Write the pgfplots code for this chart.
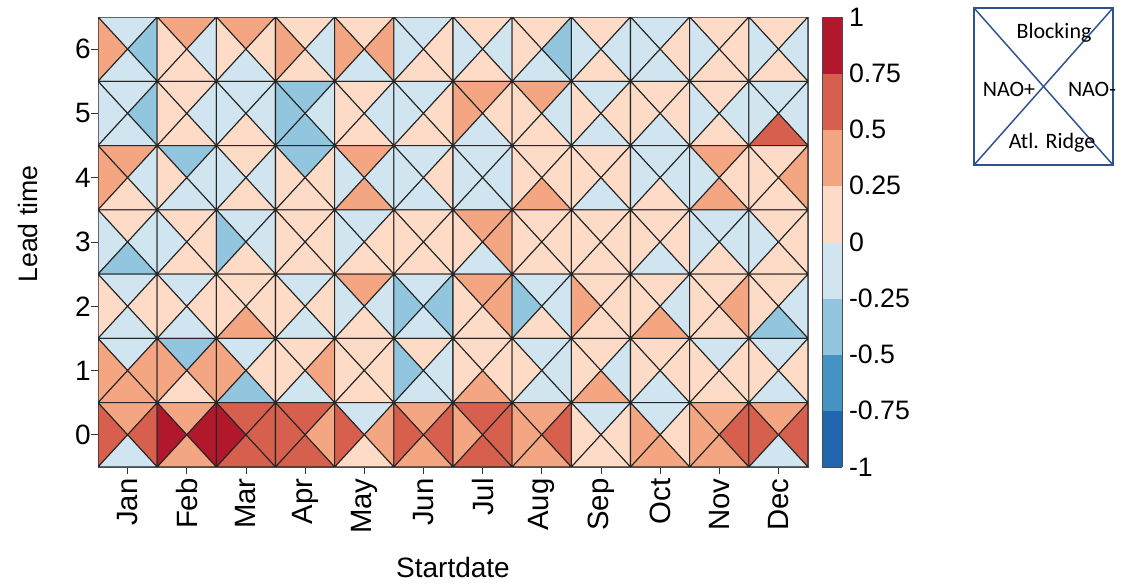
\documentclass[border=0pt]{standalone}
\usepackage{pgfplots}
\usepackage{pgfplotstable}
\pgfplotsset{compat=1.18}
\usepackage{fontspec}
\setmainfont{Liberation Sans}
\newfontfamily\calibri{Carlito}
\definecolor{lgblue}{RGB}{47,82,143}

% m = start month (1=Jan), l = lead time
% B = Blocking (top), P = NAO+ (left), N = NAO- (right), R = Atl. Ridge (bottom)
\pgfplotstableread{
m l B P N R
1 6 -0.12 0.38 -0.38 -0.12
1 5 -0.12 -0.12 -0.38 -0.12
1 4 0.38 0.38 -0.12 0.12
1 3 0.12 -0.12 -0.12 -0.38
1 2 -0.12 0.12 0.12 -0.12
1 1 -0.12 0.38 0.38 0.38
1 0 0.38 0.62 0.62 -0.12
2 6 0.38 0.12 -0.12 0.12
2 5 0.12 0.12 -0.12 0.12
2 4 -0.38 0.12 -0.12 -0.12
2 3 0.12 -0.12 0.12 0.12
2 2 -0.12 0.12 0.12 -0.12
2 1 -0.38 0.38 0.38 0.12
2 0 0.38 0.88 0.88 0.38
3 6 0.38 0.12 0.12 -0.12
3 5 -0.12 -0.12 -0.12 0.12
3 4 0.12 -0.12 -0.12 0.12
3 3 -0.12 -0.38 -0.12 0.12
3 2 0.12 0.12 0.12 0.38
3 1 -0.12 0.38 0.12 -0.38
3 0 0.62 0.88 0.62 0.62
4 6 0.12 0.38 -0.12 0.12
4 5 -0.38 -0.38 -0.12 -0.38
4 4 -0.38 0.12 0.12 0.12
4 3 0.12 0.12 0.12 0.12
4 2 -0.12 0.12 0.12 -0.12
4 1 0.12 0.12 0.38 -0.12
4 0 0.62 0.62 0.38 0.62
5 6 0.12 0.38 0.38 -0.12
5 5 0.12 0.12 -0.12 0.12
5 4 0.38 -0.12 -0.12 0.38
5 3 -0.12 -0.12 0.12 0.12
5 2 0.38 -0.12 -0.12 0.12
5 1 0.12 0.12 0.12 0.12
5 0 -0.12 0.62 0.38 0.12
6 6 -0.12 -0.12 0.12 0.12
6 5 -0.12 -0.12 0.12 0.12
6 4 -0.12 -0.12 0.12 -0.12
6 3 0.12 0.12 0.12 0.12
6 2 -0.12 -0.38 -0.38 -0.12
6 1 0.12 -0.38 -0.12 -0.12
6 0 0.38 0.62 0.62 0.38
7 6 0.12 -0.12 -0.12 0.12
7 5 0.38 0.38 0.12 -0.12
7 4 -0.12 -0.12 -0.12 -0.12
7 3 0.38 0.12 0.38 -0.12
7 2 0.38 0.12 0.38 0.12
7 1 0.12 0.12 0.12 0.38
7 0 0.62 0.38 0.62 0.62
8 6 0.12 0.12 -0.38 -0.12
8 5 0.38 0.12 -0.12 0.12
8 4 0.12 0.12 0.12 0.38
8 3 0.12 0.12 0.12 0.12
8 2 -0.12 -0.38 -0.12 0.12
8 1 -0.12 0.12 -0.12 -0.12
8 0 0.38 0.38 0.62 0.38
9 6 0.12 -0.12 -0.12 0.12
9 5 -0.12 0.12 0.12 -0.12
9 4 0.12 0.12 0.12 -0.12
9 3 0.12 0.12 0.12 0.12
9 2 0.12 0.38 0.12 0.12
9 1 0.12 0.12 -0.12 0.38
9 0 -0.12 0.12 0.12 0.12
10 6 -0.12 -0.12 0.12 -0.12
10 5 0.12 0.12 0.12 -0.12
10 4 -0.12 -0.12 -0.12 0.12
10 3 0.12 0.12 0.12 -0.12
10 2 0.12 0.12 -0.12 0.38
10 1 0.12 0.12 0.12 -0.12
10 0 -0.12 0.38 0.12 0.38
11 6 0.12 -0.12 0.12 0.12
11 5 0.12 -0.12 -0.12 0.12
11 4 0.38 -0.12 0.12 0.38
11 3 -0.12 -0.12 -0.12 0.12
11 2 0.12 0.12 0.38 0.12
11 1 -0.12 0.12 0.12 0.12
11 0 0.38 0.38 0.62 0.38
12 6 0.12 -0.12 -0.12 0.12
12 5 -0.12 -0.12 -0.12 0.62
12 4 0.12 0.12 0.38 0.12
12 3 0.12 -0.12 0.12 0.12
12 2 0.12 0.12 -0.12 -0.38
12 1 -0.12 0.12 0.12 -0.12
12 0 0.38 0.62 0.62 -0.12
}\cells

\begin{document}
\begin{tikzpicture}
\useasboundingbox (-73.5pt,-87.75pt) rectangle (771pt,350.25pt);
\begin{axis}[
  at={(0,0)}, anchor=south west,
  scale only axis, width=532.5pt, height=337.5pt,
  xmin=0.5, xmax=12.5, ymin=-0.5, ymax=6.5,
  xtick={1,...,12},
  xticklabels={Jan,Feb,Mar,Apr,May,Jun,Jul,Aug,Sep,Oct,Nov,Dec},
  ytick={0,...,6},
  tick align=outside, xtick pos=left, ytick pos=left,
  major tick length=5pt,
  tick style={black!80, line width=0.6pt},
  /pgf/number format/assume math mode=true,
  x tick label style={rotate=90, anchor=east, font=\fontsize{22}{22}\selectfont},
  y tick label style={font=\fontsize{21}{21}\selectfont, xshift=3pt},
  xlabel={Startdate}, ylabel={Lead time},
  xlabel style={font=\fontsize{21}{21}\selectfont, at={(axis description cs:0.5,-0.223)}, anchor=center},
  ylabel style={font=\fontsize{20}{20}\selectfont, at={(axis description cs:-0.0986,0.54)}, anchor=center},
  axis line style={black!70, line width=0.6pt},
  colormap={rdbu}{rgb255=(33,102,172) rgb255=(67,147,195) rgb255=(146,197,222) rgb255=(209,229,240) rgb255=(253,219,199) rgb255=(244,165,130) rgb255=(214,96,77) rgb255=(178,24,43)},
  colormap access=piecewise constant,
  point meta min=-1, point meta max=1,
  colorbar,
  colorbar style={
    at={(parent axis.north east)}, anchor=north west, xshift=2.25pt,
    width=15pt,
    ytick={-1,-0.75,-0.5,-0.25,0,0.25,0.5,0.75,1},
    yticklabels={-1,-0.75,-0.5,-0.25,0,0.25,0.5,0.75,1},
    major tick length=0pt,
    yticklabel style={font=\fontsize{20}{20}\selectfont, xshift=1.5pt},
    axis line style={black!70, line width=0.6pt},
  },
]
\pgfplotstablegetrowsof{\cells}
\pgfmathtruncatemacro\nrows{\pgfplotsretval-1}
\pgfplotsforeachungrouped \i in {0,...,\nrows}{%
  \pgfplotstablegetelem{\i}{m}\of\cells \let\cx\pgfplotsretval
  \pgfplotstablegetelem{\i}{l}\of\cells \let\cy\pgfplotsretval
  \pgfplotstablegetelem{\i}{B}\of\cells \let\vB\pgfplotsretval
  \pgfplotstablegetelem{\i}{P}\of\cells \let\vP\pgfplotsretval
  \pgfplotstablegetelem{\i}{N}\of\cells \let\vN\pgfplotsretval
  \pgfplotstablegetelem{\i}{R}\of\cells \let\vR\pgfplotsretval
  \pgfmathsetmacro\xa{\cx-0.5}\pgfmathsetmacro\xb{\cx+0.5}%
  \pgfmathsetmacro\ya{\cy-0.5}\pgfmathsetmacro\yb{\cy+0.5}%
  \edef\tmp{\noexpand\addplot[patch, shader=faceted, faceted color=black!85, line width=0.8pt, point meta=explicit] coordinates {
    (\xa,\yb) [\vB] (\xb,\yb) [\vB] (\cx,\cy) [\vB]
    (\xa,\yb) [\vP] (\xa,\ya) [\vP] (\cx,\cy) [\vP]
    (\xb,\yb) [\vN] (\xb,\ya) [\vN] (\cx,\cy) [\vN]
    (\xa,\ya) [\vR] (\xb,\ya) [\vR] (\cx,\cy) [\vR]
  };}\tmp
}
\end{axis}
% legend key box
\draw[lgblue, line width=1.1pt] (657pt,226.5pt) -- (761.25pt,344.25pt);
\draw[lgblue, line width=1.1pt] (657pt,344.25pt) -- (761.25pt,226.5pt);
\draw[lgblue, line width=1.8pt] (657pt,226.5pt) rectangle (761.25pt,344.25pt);
\begin{scope}[every node/.style={font=\calibri\fontsize{16.5}{18}\selectfont, inner sep=0pt}]
\node at (717pt,325.5pt) {Blocking};
\node at (683.25pt,283.5pt) {NAO+};
\node at (745.5pt,283.5pt) {NAO-};
\node at (715.5pt,243pt) {Atl. Ridge};
\end{scope}
\end{tikzpicture}
\end{document}
